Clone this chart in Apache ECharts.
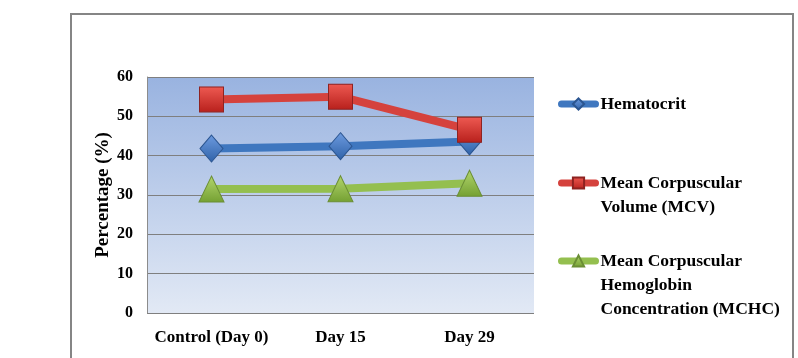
<!DOCTYPE html>
<html>
<head>
<meta charset="utf-8">
<script src="https://cdn.jsdelivr.net/npm/echarts@6/dist/echarts.min.js"></script>
<style>
  html, body { margin: 0; padding: 0; background: #ffffff; }
  #chart { width: 798px; height: 358px; }
</style>
</head>
<body>
<div id="chart"></div>
<script>
const categories = ["Control (Day 0)", "Day 15", "Day 29"];
const hematocrit = [41.8, 42.4, 43.6];
const mcv = [54.3, 55.0, 46.6];
const mchc = [31.5, 31.6, 33.0];
const yTicks = { min: 0, max: 60, interval: 10 };

const names = ["Hematocrit", "Mean Corpuscular Volume (MCV)", "Mean Corpuscular Hemoglobin Concentration (MCHC)"];
// legend labels, blank lines on top keep the icon level with the first line
const legendLabels = {
  "Hematocrit": "Hematocrit",
  "Mean Corpuscular Volume (MCV)": "\nMean Corpuscular\nVolume (MCV)",
  "Mean Corpuscular Hemoglobin Concentration (MCHC)": "\n\nMean Corpuscular\nHemoglobin\nConcentration (MCHC)"
};

const serif = "'Liberation Serif', 'Times New Roman', serif";

const grad = (top, bottom) => new echarts.graphic.LinearGradient(0, 0, 0, 1, [
  { offset: 0, color: top },
  { offset: 1, color: bottom }
]);

const myChart = echarts.init(document.getElementById("chart"));

const mkSeries = (name, data, color, symbol, size, fillTop, fillBottom, border) => ({
  name: name,
  type: "line",
  data: data,
  symbol: symbol,
  symbolSize: size,
  showAllSymbol: true,
  lineStyle: { color: color, width: 8 },
  itemStyle: { color: grad(fillTop, fillBottom), borderColor: border, borderWidth: 1 },
  z: 3
});

const mkLegend = (name, top) => ({
  data: [name],
  orient: "vertical",
  left: 553,
  top: top,
  itemWidth: 34,
  itemHeight: 14,
  itemGap: 0,
  selectedMode: false,
  formatter: n => legendLabels[n],
  lineStyle: { width: 7, cap: "round" },
  textStyle: {
    fontFamily: serif,
    fontWeight: "bold",
    fontSize: 17.5,
    lineHeight: 24,
    color: "#000000"
  }
});

const option = {
  animation: false,
  graphic: [
    {
      type: "rect",
      shape: { x: 71, y: 14, width: 722, height: 360 },
      style: { fill: "none", stroke: "#858585", lineWidth: 2 },
      silent: true
    }
  ],
  legend: [
    mkLegend(names[0], 87),
    mkLegend(names[1], 142),
    mkLegend(names[2], 196)
  ],
  grid: {
    left: 147,
    right: 264,
    top: 77,
    bottom: 45,
    show: true,
    borderWidth: 0,
    backgroundColor: grad("#99b3e0", "#e2e9f5")
  },
  xAxis: {
    type: "category",
    data: categories,
    boundaryGap: true,
    axisLine: { show: false },
    axisTick: { show: false },
    axisLabel: {
      interval: 0,
      margin: 16,
      fontFamily: serif,
      fontWeight: "bold",
      fontSize: 17,
      color: "#000000"
    }
  },
  yAxis: {
    type: "value",
    min: yTicks.min,
    max: yTicks.max,
    interval: yTicks.interval,
    name: "Percentage (%)",
    nameLocation: "middle",
    nameGap: 34,
    nameTextStyle: {
      fontFamily: serif,
      fontWeight: "bold",
      fontSize: 19,
      color: "#000000"
    },
    axisLine: { show: true, lineStyle: { color: "#8c8c8c", width: 1 } },
    axisTick: { show: false },
    splitLine: { show: true, lineStyle: { color: "#7f7f7f", width: 1 } },
    axisLabel: {
      margin: 14,
      fontFamily: serif,
      fontWeight: "bold",
      fontSize: 16,
      color: "#000000"
    }
  },
  series: [
    mkSeries(names[0], hematocrit, "#3f77bf", "diamond", [23, 27], "#6d9be0", "#2f62a8", "#2b5590"),
    mkSeries(names[1], mcv, "#d5423d", "rect", [24, 25], "#ee5a52", "#b8201c", "#8e2220"),
    mkSeries(names[2], mchc, "#94bf4f", "triangle", [25, 26], "#b3d66e", "#74a032", "#6b8e35")
  ]
};

myChart.setOption(option);
</script>
</body>
</html>
